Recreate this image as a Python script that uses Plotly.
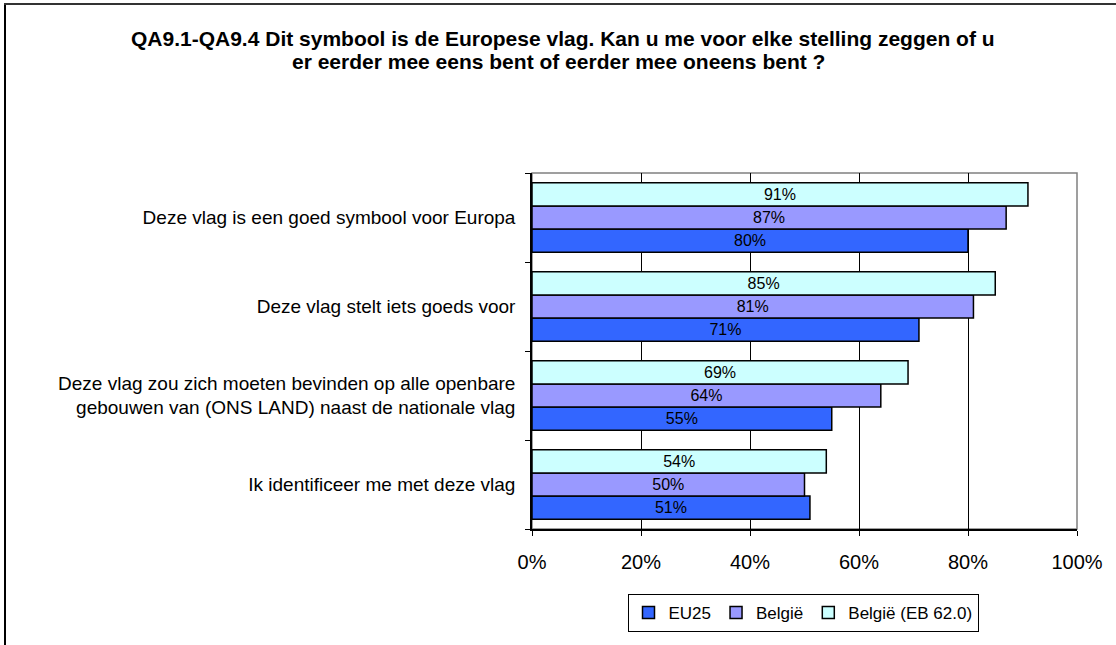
import plotly.graph_objects as go

categories = [
    "Ik identificeer me met deze vlag",
    "Deze vlag zou zich moeten bevinden op alle openbare<br>gebouwen van (ONS LAND) naast de nationale vlag",
    "Deze vlag stelt iets goeds voor",
    "Deze vlag is een goed symbool voor Europa",
]
series_names = ["EU25", "België", "België (EB 62.0)"]
eu25 = [51, 55, 71, 80]
belgie = [50, 64, 81, 87]
belgie_eb62 = [54, 69, 85, 91]
colors = ["#3366FF", "#9999FF", "#CCFFFF"]
tick_vals = [0, 20, 40, 60, 80, 100]
tick_text = ["0%", "20%", "40%", "60%", "80%", "100%"]
title_lines = [
    "QA9.1-QA9.4 Dit symbool is de Europese vlag. Kan u me voor elke stelling zeggen of u",
    "er eerder mee eens bent of eerder mee oneens bent ?",
]

W, H = 1116, 645
L, R, T, B = 532, 39, 173, 116
pw, ph = W - L - R, H - T - B
FONT = "Liberation Sans, Arial, sans-serif"

fig = go.Figure()
for name, vals, col in zip(series_names, [eu25, belgie, belgie_eb62], colors):
    fig.add_trace(go.Bar(
        y=categories, x=vals, name=name, orientation="h",
        marker=dict(color=col, line=dict(color="black", width=1.5)),
        text=[f"{v}%" for v in vals], textposition="inside",
        insidetextanchor="middle",
        textfont=dict(color="black", size=16, family=FONT),
        hoverinfo="skip",
    ))

def px_x(p):
    return (p - L) / pw

def px_y(p):
    return (H - B - p) / ph

shapes = [
    dict(type="rect", xref="paper", yref="paper", x0=0, x1=1, y0=0, y1=1,
         line=dict(color="#808080", width=1.5), layer="below"),
    dict(type="line", xref="paper", yref="paper", x0=px_x(5), x1=px_x(5),
         y0=px_y(4), y1=px_y(H), line=dict(color="black", width=2)),
    dict(type="line", xref="paper", yref="paper", x0=px_x(4), x1=px_x(W),
         y0=px_y(4), y1=px_y(4), line=dict(color="#333333", width=2)),
]

annotations = [
    dict(text=f"<b>{title_lines[0]}</b>", xref="paper", yref="paper",
         x=px_x(563), y=px_y(38), xanchor="center", yanchor="middle",
         showarrow=False, font=dict(size=21, family=FONT, color="black")),
    dict(text=f"<b>{title_lines[1]}</b>", xref="paper", yref="paper",
         x=px_x(558), y=px_y(62), xanchor="center", yanchor="middle",
         showarrow=False, font=dict(size=21, family=FONT, color="black")),
]

fig.update_layout(
    width=W, height=H,
    margin=dict(l=L, r=R, t=T, b=B, pad=0),
    paper_bgcolor="white", plot_bgcolor="white",
    barmode="group", bargap=0.22, bargroupgap=0,
    font=dict(family=FONT, color="black", size=18),
    xaxis=dict(
        range=[0, 100], tickmode="array", tickvals=tick_vals, ticktext=tick_text,
        showgrid=True, gridcolor="black", gridwidth=1,
        showline=True, linecolor="black", linewidth=1.5,
        ticks="outside", ticklen=5, tickcolor="black",
        tickfont=dict(size=20), ticklabelstandoff=9,
        zeroline=False, fixedrange=True,
    ),
    yaxis=dict(
        categoryorder="array", categoryarray=categories,
        showline=True, linecolor="black", linewidth=1.5,
        ticks="outside", ticklen=5, tickcolor="black", tickson="boundaries",
        tickfont=dict(size=19), ticklabelstandoff=11, fixedrange=True,
    ),
    legend=dict(
        orientation="h", x=px_x(803), xanchor="center", y=px_y(613), yanchor="middle",
        bordercolor="black", borderwidth=1, font=dict(size=17),
        traceorder="normal", itemwidth=30,
    ),
    showlegend=True,
    shapes=shapes,
    annotations=annotations,
)

fig.write_html("out.html", config={"displayModeBar": False},
               post_script="document.body.style.margin='0';")
